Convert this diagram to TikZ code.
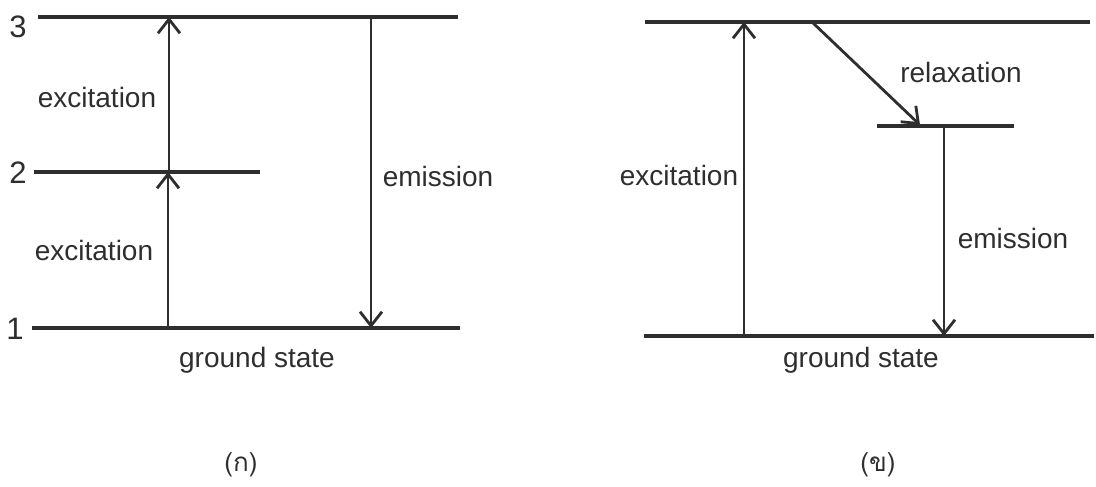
\documentclass[tikz,border=0pt]{standalone}
\usepackage{fontspec}
\setmainfont{Liberation Sans}
\newfontfamily\thaifont[Script=Thai]{Loma}
\usetikzlibrary{arrows.meta}
\definecolor{ink}{HTML}{2E2E2E}
\tikzset{
  level/.style={draw=ink, line width=3.6pt},
  trans/.style={draw=ink, line width=2.8pt, -{Straight Barb[length=14pt,width=22pt,line width=2.8pt]}},
  lbl/.style={text=ink, font=\fontsize{28}{32}\selectfont, inner sep=0pt},
  digit/.style={text=ink, font=\fontsize{31}{34}\selectfont, inner sep=0pt},
  captxt/.style={text=ink, font=\thaifont\fontsize{26}{30}\selectfont, inner sep=0pt}
}
\begin{document}
\begin{tikzpicture}[x=1pt,y=-1pt]
\useasboundingbox (0,0) rectangle (1096,487);
% ---------- panel (a) ----------
\coordinate (L3a) at (38,17);  \coordinate (L3b) at (458,17);
\coordinate (L2a) at (34,172); \coordinate (L2b) at (260,172);
\coordinate (L1a) at (32,328); \coordinate (L1b) at (460,328);
\draw[level] (L3a) -- (L3b);
\draw[level] (L2a) -- (L2b);
\draw[level] (L1a) -- (L1b);
\node[digit] (n3) at (18,27) {3};
\node[digit] (n2) at (18,173) {2};
\node[digit] (n1) at (15,329) {1};
\coordinate (e1s) at (168,328); \coordinate (e1t) at (168,172);
\coordinate (e2s) at (169,172); \coordinate (e2t) at (169,17);
\coordinate (ems) at (371,17);  \coordinate (emt) at (371,328);
\draw[trans] (e1s) -- (e1t);
\draw[trans] (e2s) -- (e2t);
\draw[trans] (ems) -- (emt);
\node[lbl] (exA1) at (97,97) {excitation};
\node[lbl] (exA2) at (94,250) {excitation};
\node[lbl] (emA) at (438,176) {emission};
\node[lbl] (gsA) at (257,360) {ground state};
\node[captxt] (capA) at (241,465) {(ก)};
% ---------- panel (b) ----------
\coordinate (T1) at (645,22);  \coordinate (T2) at (1090,22);
\coordinate (M1) at (877,126); \coordinate (M2) at (1014,126);
\coordinate (B1) at (644,336); \coordinate (B2) at (1094,336);
\draw[level] (T1) -- (T2);
\draw[level] (M1) -- (M2);
\draw[level] (B1) -- (B2);
\coordinate (xs) at (744,336); \coordinate (xt) at (744,22);
\coordinate (rs) at (812,22);  \coordinate (rt) at (920,125);
\coordinate (ms) at (944,126); \coordinate (mt) at (944,336);
\draw[trans] (xs) -- (xt);
\draw[trans] (rs) -- (rt);
\draw[trans] (ms) -- (mt);
\node[lbl] (exB) at (679,175) {excitation};
\node[lbl] (rlB) at (961,72) {relaxation};
\node[lbl] (emB) at (1013,238) {emission};
\node[lbl] (gsB) at (861,360) {ground state};
\node[captxt] (capB) at (878,465) {(ข)};
\end{tikzpicture}
\end{document}
